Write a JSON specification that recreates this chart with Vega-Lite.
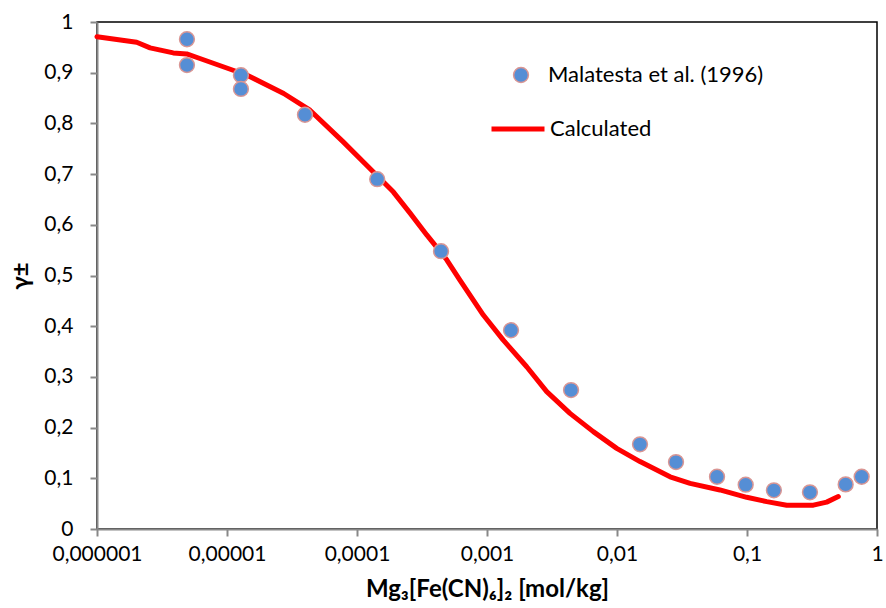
{
  "$schema": "https://vega.github.io/schema/vega-lite/v6.json",
  "autosize": "none",
  "width": 780,
  "height": 507,
  "padding": {"left": 97, "top": 22, "right": 9, "bottom": 79},
  "background": "white",
  "config": {
    "font": "Lato",
    "view": {"stroke": "black", "strokeWidth": 1.5},
    "axis": {
      "domainColor": "#888888",
      "domainWidth": 2,
      "tickColor": "#888888",
      "tickWidth": 2,
      "tickSize": 7,
      "grid": false,
      "labelFont": "Lato",
      "labelFontSize": 21,
      "labelColor": "black",
      "labelOverlap": false,
      "labelFlush": false,
      "titleFont": "Lato",
      "titleFontSize": 24,
      "titleFontWeight": "bold",
      "titleColor": "black"
    }
  },
  "datasets": {
    "measured": [
      {"c": 0.00000492, "g": 0.966, "s": "Malatesta et al. (1996)"},
      {"c": 0.00000492, "g": 0.915, "s": "Malatesta et al. (1996)"},
      {"c": 0.0000128, "g": 0.895, "s": "Malatesta et al. (1996)"},
      {"c": 0.0000128, "g": 0.868, "s": "Malatesta et al. (1996)"},
      {"c": 0.0000398, "g": 0.817, "s": "Malatesta et al. (1996)"},
      {"c": 0.000143, "g": 0.690, "s": "Malatesta et al. (1996)"},
      {"c": 0.000443, "g": 0.548, "s": "Malatesta et al. (1996)"},
      {"c": 0.00153, "g": 0.392, "s": "Malatesta et al. (1996)"},
      {"c": 0.00443, "g": 0.274, "s": "Malatesta et al. (1996)"},
      {"c": 0.01503, "g": 0.167, "s": "Malatesta et al. (1996)"},
      {"c": 0.02844, "g": 0.132, "s": "Malatesta et al. (1996)"},
      {"c": 0.0588, "g": 0.103, "s": "Malatesta et al. (1996)"},
      {"c": 0.0977, "g": 0.0874, "s": "Malatesta et al. (1996)"},
      {"c": 0.161, "g": 0.0763, "s": "Malatesta et al. (1996)"},
      {"c": 0.305, "g": 0.0724, "s": "Malatesta et al. (1996)"},
      {"c": 0.574, "g": 0.088, "s": "Malatesta et al. (1996)"},
      {"c": 0.762, "g": 0.103, "s": "Malatesta et al. (1996)"}
    ],
    "calc": [
      {"c": 0.000001, "g": 0.971, "s": "Calculated"},
      {"c": 0.00000202, "g": 0.960, "s": "Calculated"},
      {"c": 0.00000256, "g": 0.949, "s": "Calculated"},
      {"c": 0.00000386, "g": 0.939, "s": "Calculated"},
      {"c": 0.0000049, "g": 0.937, "s": "Calculated"},
      {"c": 0.00000619, "g": 0.928, "s": "Calculated"},
      {"c": 0.0000143, "g": 0.895, "s": "Calculated"},
      {"c": 0.0000273, "g": 0.859, "s": "Calculated"},
      {"c": 0.0000435, "g": 0.826, "s": "Calculated"},
      {"c": 0.000078, "g": 0.764, "s": "Calculated"},
      {"c": 0.000115, "g": 0.721, "s": "Calculated"},
      {"c": 0.00019, "g": 0.665, "s": "Calculated"},
      {"c": 0.000256, "g": 0.623, "s": "Calculated"},
      {"c": 0.000344, "g": 0.580, "s": "Calculated"},
      {"c": 0.000387, "g": 0.564, "s": "Calculated"},
      {"c": 0.00049, "g": 0.531, "s": "Calculated"},
      {"c": 0.000619, "g": 0.491, "s": "Calculated"},
      {"c": 0.000937, "g": 0.422, "s": "Calculated"},
      {"c": 0.00133, "g": 0.373, "s": "Calculated"},
      {"c": 0.00202, "g": 0.320, "s": "Calculated"},
      {"c": 0.00288, "g": 0.271, "s": "Calculated"},
      {"c": 0.00435, "g": 0.228, "s": "Calculated"},
      {"c": 0.00657, "g": 0.192, "s": "Calculated"},
      {"c": 0.00995, "g": 0.159, "s": "Calculated"},
      {"c": 0.01503, "g": 0.133, "s": "Calculated"},
      {"c": 0.0256, "g": 0.103, "s": "Calculated"},
      {"c": 0.0365, "g": 0.090, "s": "Calculated"},
      {"c": 0.0619, "g": 0.077, "s": "Calculated"},
      {"c": 0.0995, "g": 0.0625, "s": "Calculated"},
      {"c": 0.142, "g": 0.054, "s": "Calculated"},
      {"c": 0.202, "g": 0.047, "s": "Calculated"},
      {"c": 0.324, "g": 0.047, "s": "Calculated"},
      {"c": 0.41, "g": 0.053, "s": "Calculated"},
      {"c": 0.504, "g": 0.064, "s": "Calculated"}
    ]
  },
  "encoding": {
    "x": {
      "field": "c",
      "type": "quantitative",
      "scale": {"type": "log", "domain": [0.000001, 1], "nice": false},
      "axis": {
        "values": [0.000001, 0.00001, 0.0001, 0.001, 0.01, 0.1, 1],
        "labelExpr": "replace(format(datum.value, '.6~f'), '.', ',')",
        "labelPadding": 7,
        "title": "Mg₃[Fe(CN)₆]₂ [mol/kg]",
        "titlePadding": 13
      }
    },
    "y": {
      "field": "g",
      "type": "quantitative",
      "scale": {"domain": [0, 1], "nice": false},
      "axis": {
        "values": [0, 0.1, 0.2, 0.3, 0.4, 0.5, 0.6, 0.7, 0.8, 0.9, 1],
        "labelExpr": "replace(format(datum.value, '.1~f'), '.', ',')",
        "labelPadding": 17,
        "title": "γ±",
        "titlePadding": 10
      }
    }
  },
  "layer": [
    {
      "data": {"name": "calc"},
      "mark": {"type": "line", "strokeWidth": 5, "strokeCap": "round", "strokeJoin": "round"},
      "encoding": {
        "stroke": {
          "field": "s",
          "type": "nominal",
          "scale": {"domain": ["Calculated"], "range": ["#FF0000"]},
          "legend": {
            "title": null,
            "orient": "none",
            "legendX": 392,
            "legendY": 78,
            "symbolType": "stroke",
            "symbolSize": 2809,
            "symbolStrokeWidth": 5,
            "labelFontSize": 22,
            "labelFont": "Lato",
            "labelColor": "black",
            "labelLimit": 400,
            "labelOffset": 3
          }
        }
      }
    },
    {
      "data": {"name": "measured"},
      "mark": {"type": "point", "filled": true, "size": 220, "stroke": "#D99694", "strokeWidth": 1.5, "opacity": 1},
      "encoding": {
        "fill": {
          "field": "s",
          "type": "nominal",
          "scale": {"domain": ["Malatesta et al. (1996)"], "range": ["#558ED5"]},
          "legend": {
            "title": null,
            "orient": "none",
            "legendX": 413,
            "legendY": 42,
            "symbolType": "circle",
            "symbolSize": 220,
            "symbolStrokeColor": "#D99694",
            "symbolStrokeWidth": 1.5,
            "symbolOpacity": 1,
            "labelFontSize": 22,
            "labelFont": "Lato",
            "labelColor": "black",
            "labelLimit": 400,
            "labelOffset": 16
          }
        }
      }
    }
  ]
}
